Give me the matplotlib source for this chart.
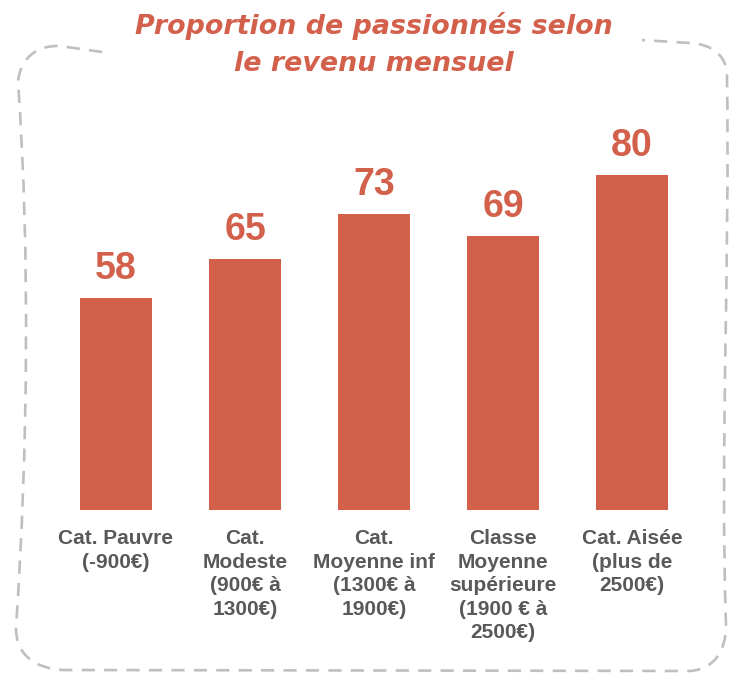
import matplotlib
matplotlib.use("Agg")
import matplotlib.pyplot as plt
from matplotlib.path import Path
from matplotlib.patches import PathPatch

# donnees
categories = ["Cat. Pauvre\n(-900€)",
              "Cat.\nModeste\n(900€ à\n1300€)",
              "Cat.\nMoyenne inf\n(1300€ à\n1900€)",
              "Classe\nMoyenne\nsupérieure\n(1900 € à\n2500€)",
              "Cat. Aisée\n(plus de\n2500€)"]
valeurs = [58, 65, 73, 69, 80]
titre = ["Proportion de passionnés selon", "le revenu mensuel"]

rouge = "#D3604B"
gris = "#595959"
W, H = 730, 678

fig = plt.figure(figsize=(7.3, 6.78), dpi=100)

# axes places en pixels (centre barre 1 = 116, pas = 129, bas = 510)
pas = 129.0
gauche = 116 - 0.5 * pas
ax = fig.add_axes([gauche / W, 1 - 510 / H, 5 * pas / W, 335 / H])
x = range(len(valeurs))
ax.bar(x, valeurs, width=0.56, color=rouge, bottom=0)
ax.set_xlim(-0.5, 4.5)
ax.set_ylim(20, 80)
for s in ax.spines.values():
    s.set_visible(False)
ax.set_yticks([])
ax.set_xticks(list(x))
ax.set_xticklabels(categories, fontsize=15, fontweight="bold", color=gris,
                   family=["Liberation Sans", "DejaVu Sans"],
                   linespacing=1.3, va="top")
ax.tick_params(axis="x", length=0, pad=14)

for xi, v in zip(x, valeurs):
    ax.annotate(str(v), (xi, v), xytext=(0, 21), textcoords="offset points",
                ha="center", va="center", fontsize=27, fontweight="bold",
                color=rouge, family=["Liberation Sans", "DejaVu Sans"],
                annotation_clip=False)

# titre sur deux lignes
for ligne, yb in zip(titre, [34, 71]):
    fig.text(374 / W, 1 - yb / H, ligne, ha="center", va="baseline", fontsize=19.4,
             fontweight="bold", style="italic", color=rouge, family="DejaVu Sans")

# cadre pointille dessine a main levee
pts = [(102, 52), (60, 46), (35, 45), (20, 60), (18, 82),
       (30, 250), (28, 450), (16, 628),
       (16, 655), (35, 668), (62, 670),
       (690, 671),
       (715, 669), (726, 650), (726, 625),
       (720, 450), (730, 250), (727, 78),
       (728, 56), (712, 44), (690, 43),
       (642, 40)]
codes = [Path.MOVETO, Path.LINETO, Path.CURVE4, Path.CURVE4, Path.CURVE4,
         Path.CURVE4, Path.CURVE4, Path.CURVE4,
         Path.CURVE4, Path.CURVE4, Path.CURVE4,
         Path.LINETO,
         Path.CURVE4, Path.CURVE4, Path.CURVE4,
         Path.CURVE4, Path.CURVE4, Path.CURVE4,
         Path.CURVE4, Path.CURVE4, Path.CURVE4,
         Path.LINETO]
verts = [(px / W, 1 - py / H) for px, py in pts]
cadre = PathPatch(Path(verts, codes), transform=fig.transFigure, fill=False,
                  edgecolor="#BFBFBF", linewidth=1.9, linestyle=(0, (5, 3.5)))
fig.patches.append(cadre)

fig.savefig("out.png", dpi=100)
